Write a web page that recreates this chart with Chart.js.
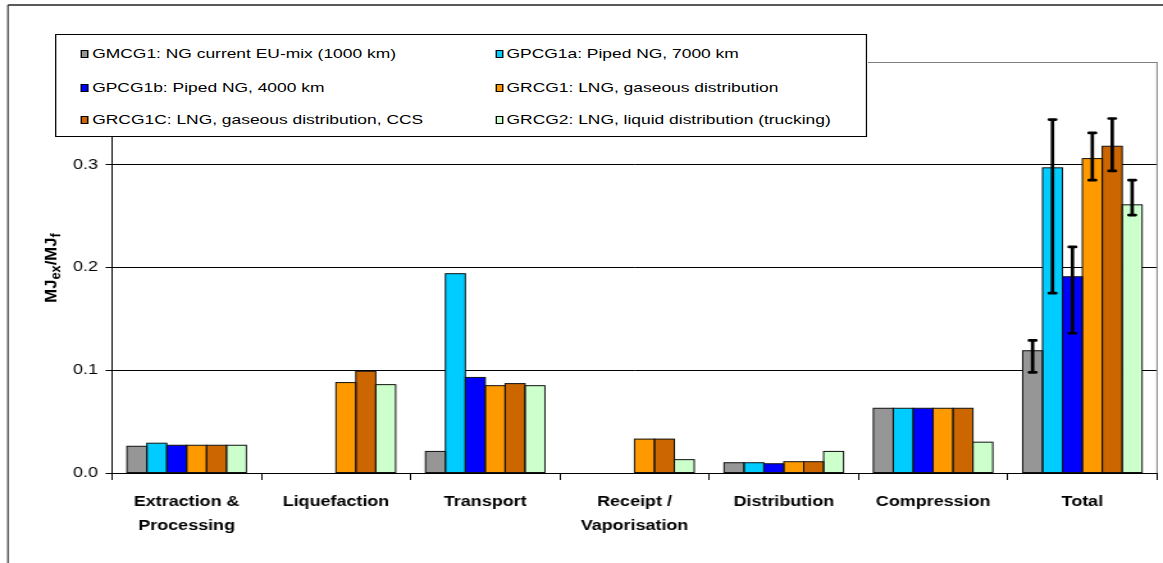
<!DOCTYPE html>
<html>
<head>
<meta charset="utf-8">
<script src="https://cdn.jsdelivr.net/npm/chart.js@4.4.1/dist/chart.umd.min.js"></script>
<style>
  html, body { margin: 0; padding: 0; background: #fff; overflow: hidden; }
  /* the whole figure is drawn on a narrower stage and widened, giving the broad lettering */
  #stage { position: relative; width: 908px; height: 563px; transform: scaleX(1.2808); transform-origin: 0 0; }
  #chart { position: absolute; left: 0; top: 0; width: 908px; height: 563px; }
  #legend { position: absolute; left: 43px; top: 34px; width: 634px; height: 103px; box-sizing: border-box;
            border: 1px solid #000; background: #fff; font: 13.6px "Liberation Sans", Arial, sans-serif; color: #000; }
  .item { position: absolute; height: 18px; line-height: 18px; white-space: nowrap; }
  .key { position: absolute; left: 0; top: 5px; width: 6px; height: 8px; box-sizing: border-box; border: 1px solid #000; }
  .txt { position: absolute; left: 9px; top: 0; }
</style>
</head>
<body>
<div id="stage">
  <canvas id="chart" width="908" height="563"></canvas>
  <div id="legend"></div>
</div>
<script>
// Exergy losses per pathway step, MJ_ex / MJ_f
const categories = [["Extraction &", "Processing"], "Liquefaction", "Transport", ["Receipt /", "Vaporisation"], "Distribution", "Compression", "Total"];

const seriesNames = [
  "GMCG1: NG current EU-mix (1000 km)",
  "GPCG1a: Piped NG, 7000 km",
  "GPCG1b: Piped NG, 4000 km",
  "GRCG1: LNG, gaseous distribution",
  "GRCG1C: LNG, gaseous distribution, CCS",
  "GRCG2: LNG, liquid distribution (trucking)"
];
const seriesColors = ["#969696", "#00CCFF", "#0000FF", "#FF9900", "#CC6600", "#CCFFCC"];

const gmcg1  = [0.026, null,  0.021, null,  0.010, 0.063, 0.119];
const gpcg1a = [0.029, null,  0.194, null,  0.010, 0.063, 0.297];
const gpcg1b = [0.027, null,  0.093, null,  0.009, 0.063, 0.191];
const grcg1  = [0.027, 0.088, 0.085, 0.033, 0.011, 0.063, 0.306];
const grcg1c = [0.027, 0.099, 0.087, 0.033, 0.011, 0.063, 0.318];
const grcg2  = [0.027, 0.086, 0.085, 0.013, 0.021, 0.030, 0.261];

// uncertainty range of the totals (one entry per series)
const totalLow  = [0.098, 0.175, 0.136, 0.285, 0.294, 0.251];
const totalHigh = [0.129, 0.344, 0.220, 0.331, 0.345, 0.285];

const yTickLabels = ["0.0", "0.1", "0.2", "0.3", ""];
const seriesValues = [gmcg1, gpcg1a, gpcg1b, grcg1, grcg1c, grcg2];

const FONT = '"Liberation Sans", Arial, sans-serif';

// outer frame of the figure
const framePlugin = {
  id: 'frame',
  beforeDraw(chart) {
    const c = chart.ctx;
    c.save();
    c.strokeStyle = '#222';
    c.lineWidth = 1.6;
    c.beginPath(); c.moveTo(6.2, 5); c.lineTo(chart.width, 5); c.stroke();
    c.lineWidth = 1.1;
    c.beginPath(); c.moveTo(6.2, 5); c.lineTo(6.2, chart.height); c.stroke();
    c.restore();
  }
};

// grey right edge of the plot area
const plotEdgePlugin = {
  id: 'plotEdge',
  beforeDatasetsDraw(chart) {
    const a = chart.chartArea, c = chart.ctx;
    c.save();
    c.strokeStyle = '#808080';
    c.lineWidth = 1;
    c.beginPath(); c.moveTo(a.right, a.top); c.lineTo(a.right, a.bottom); c.stroke();
    c.restore();
  }
};

// single outlines round the bars, then the error bars on the totals
const barDecorPlugin = {
  id: 'barDecor',
  afterDatasetsDraw(chart) {
    const c = chart.ctx;
    const yScale = chart.scales.y;
    c.save();
    c.strokeStyle = '#111';
    c.lineWidth = 1;
    chart.data.datasets.forEach((ds, i) => {
      chart.getDatasetMeta(i).data.forEach((bar, j) => {
        if (ds.data[j] == null) return;
        const p = bar.getProps(['x', 'y', 'base', 'width'], true);
        c.strokeRect(p.x - p.width / 2, p.y, p.width, p.base - p.y);
      });
    });
    const totalIndex = categories.length - 1;
    c.strokeStyle = '#000';
    c.lineWidth = 2.7;
    c.lineCap = 'round';
    chart.data.datasets.forEach((ds, i) => {
      const bar = chart.getDatasetMeta(i).data[totalIndex];
      const x = bar.x;
      const yLo = yScale.getPixelForValue(totalLow[i]);
      const yHi = yScale.getPixelForValue(totalHigh[i]);
      const hw = 2.6;
      c.beginPath();
      c.moveTo(x, yLo); c.lineTo(x, yHi);
      c.moveTo(x - hw, yLo); c.lineTo(x + hw, yLo);
      c.moveTo(x - hw, yHi); c.lineTo(x + hw, yHi);
      c.stroke();
    });
    c.restore();
  }
};

// rotated axis title with subscripts: MJ_ex / MJ_f
const yTitlePlugin = {
  id: 'yTitle',
  afterDraw(chart) {
    const c = chart.ctx;
    const parts = [["MJ", false], ["ex", true], ["/MJ", false], ["f", true]];
    const big = 'bold 13px ' + FONT, small = 'bold 10px ' + FONT;
    c.save();
    c.translate(39, 268);
    c.rotate(-Math.PI / 2);
    c.scale(1.28, 1);
    let total = 0;
    parts.forEach(([t, sub]) => { c.font = sub ? small : big; total += c.measureText(t).width; });
    let x = -total / 2;
    c.fillStyle = '#000';
    c.textBaseline = 'alphabetic';
    parts.forEach(([t, sub]) => {
      c.font = sub ? small : big;
      c.fillText(t, x, sub ? 7.5 : 4.7);
      x += c.measureText(t).width;
    });
    c.restore();
  }
};

const chart = new Chart(document.getElementById('chart'), {
  type: 'bar',
  data: {
    labels: categories,
    datasets: seriesValues.map((vals, i) => ({
      label: seriesNames[i],
      data: vals,
      backgroundColor: seriesColors[i],
      borderWidth: 0,
      categoryPercentage: 0.8,
      barPercentage: 1.0
    }))
  },
  options: {
    responsive: false,
    animation: false,
    events: [],
    layout: { padding: { left: 0, top: 62, right: 4.65, bottom: 0 } },
    plugins: { legend: { display: false }, tooltip: { enabled: false } },
    scales: {
      x: {
        afterFit(s) { s.height = 90; },
        grid: { display: true, drawOnChartArea: false, drawTicks: true, tickLength: 7, color: '#000', offset: true },
        border: { display: true, color: '#000', width: 1 },
        ticks: { color: '#000', padding: 11, maxRotation: 0, autoSkip: false,
                 font: { family: FONT, size: 14, weight: 'bold', lineHeight: 1.65 } }
      },
      y: {
        min: 0, max: 0.4,
        afterFit(s) { s.width = 87.45; },
        afterBuildTicks(s) { s.ticks = [0, 0.1, 0.2, 0.3, 0.4].map(v => ({ value: v })); },
        grid: { tickLength: 5, lineWidth: 1,
                color: ctx => (ctx.tick && ctx.tick.value >= 0.4 - 1e-9) ? '#808080' : '#000' },
        border: { display: true, color: '#000', width: 1 },
        ticks: { color: '#000', padding: 6, font: { family: FONT, size: 14 },
                 callback: (v, i) => yTickLabels[i] }
      }
    }
  },
  plugins: [framePlugin, plotEdgePlugin, barDecorPlugin, yTitlePlugin]
});

// legend box laid over the top of the plot, two columns filled row by row
const legendCols = [19, 342.5];
const legendRows = [20, 54, 86];
const legendBox = document.getElementById('legend');
seriesNames.forEach((name, i) => {
  const item = document.createElement('div');
  item.className = 'item';
  item.style.left = legendCols[i % 2] + 'px';
  item.style.top = (legendRows[Math.floor(i / 2)] - 10) + 'px';
  const key = document.createElement('span');
  key.className = 'key';
  key.style.background = seriesColors[i];
  const txt = document.createElement('span');
  txt.className = 'txt';
  txt.textContent = name;
  item.appendChild(key);
  item.appendChild(txt);
  legendBox.appendChild(item);
});
</script>
</body>
</html>
